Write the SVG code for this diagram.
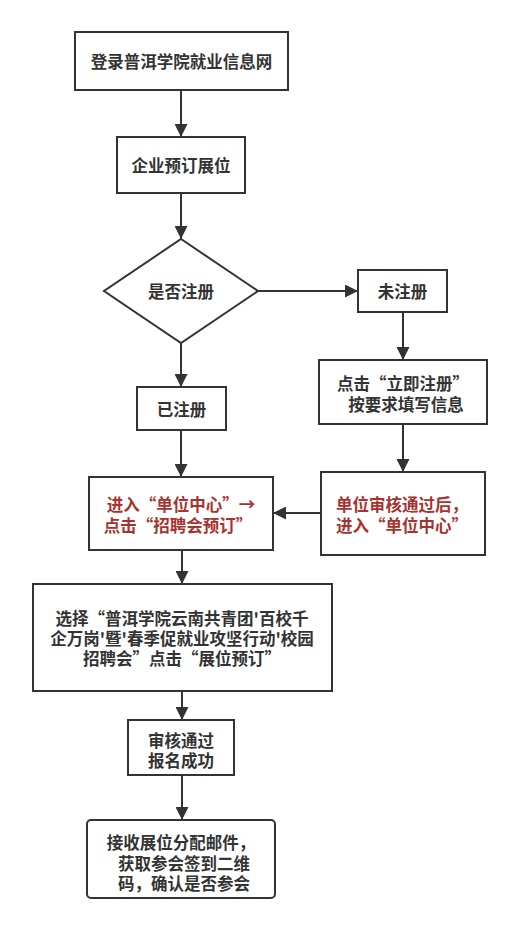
<svg xmlns="http://www.w3.org/2000/svg" width="519" height="930" viewBox="0 0 519 930">
<defs>
<marker id="ah" viewBox="0 0 10 10" refX="10" refY="5" markerWidth="6.5" markerHeight="6.5" orient="auto" markerUnits="strokeWidth">
<path d="M0,0 L10,5 L0,10 z" fill="#333"/>
</marker>
<style>
.b{fill:#fff;stroke:#333;stroke-width:2}
.c{fill:none;stroke:#333;stroke-width:2;marker-end:url(#ah)}
text{font-family:"Noto Sans CJK SC","Noto Sans",sans-serif;font-size:16.5px;font-weight:bold;fill:#333;dominant-baseline:central}
.m{text-anchor:middle}
.r{fill:#a8322d}
</style>
</defs>
<rect width="519" height="930" fill="#fff"/>
<g id="connectors">
<line class="c" x1="181" y1="90" x2="181" y2="137"/>
<line class="c" x1="181" y1="193" x2="181" y2="239"/>
<line class="c" x1="258" y1="291" x2="358" y2="291"/>
<line class="c" x1="181" y1="343" x2="181" y2="387"/>
<line class="c" x1="403" y1="312" x2="403" y2="360"/>
<line class="c" x1="403" y1="424" x2="403" y2="472"/>
<line class="c" x1="181" y1="430" x2="181" y2="477"/>
<line class="c" x1="321" y1="513" x2="273" y2="513"/>
<line class="c" x1="182" y1="550" x2="182" y2="584"/>
<line class="c" x1="182" y1="691" x2="182" y2="720"/>
<line class="c" x1="182" y1="775" x2="182" y2="820"/>
</g>
<g id="n1"><rect class="b" x="75" y="32" width="213" height="58"/><text class="m" x="181.5" y="61">登录普洱学院就业信息网</text></g>
<g id="n2"><rect class="b" x="117" y="137" width="128" height="56"/><text class="m" x="181" y="165">企业预订展位</text></g>
<g id="n3"><polygon class="b" points="181,239 258,291 181,343 104,291"/><text class="m" x="181" y="291">是否注册</text></g>
<g id="n4"><rect class="b" x="358" y="270" width="89" height="42"/><text class="m" x="402.5" y="291">未注册</text></g>
<g id="n5"><rect class="b" x="319" y="360" width="168" height="64"/><text class="m"><tspan x="403" y="383">点击“立即注册”</tspan><tspan x="406" y="404">按要求填写信息</tspan></text></g>
<g id="n6"><rect class="b" x="137" y="387" width="89" height="43"/><text class="m" x="181.5" y="408.5">已注册</text></g>
<g id="n7"><rect class="b" x="89" y="477" width="184" height="73"/><text class="m r"><tspan x="181" y="504">进入“单位中心”→</tspan><tspan x="178" y="525">点击“招聘会预订”</tspan></text></g>
<g id="n8"><rect class="b" x="321" y="472" width="164" height="83"/><text class="r"><tspan x="336" y="504">单位审核通过后，</tspan><tspan x="336" y="525">进入“单位中心”</tspan></text></g>
<g id="n9"><rect class="b" x="33" y="584" width="299" height="107"/><text class="m"><tspan x="182" y="618">选择“普洱学院云南共青团'百校千</tspan><tspan x="182" y="638">企万岗'暨'春季促就业攻坚行动'校园</tspan><tspan x="182" y="658">招聘会”点击“展位预订”</tspan></text></g>
<g id="n10"><rect class="b" x="128" y="720" width="106" height="55"/><text class="m"><tspan x="181" y="740">审核通过</tspan><tspan x="181" y="760">报名成功</tspan></text></g>
<g id="n11"><rect class="b" x="87" y="820" width="188" height="78" rx="4"/><text class="m"><tspan x="181" y="842">接收展位分配邮件，</tspan><tspan x="184" y="863">获取参会签到二维</tspan><tspan x="184" y="883">码，确认是否参会</tspan></text></g>
</svg>
